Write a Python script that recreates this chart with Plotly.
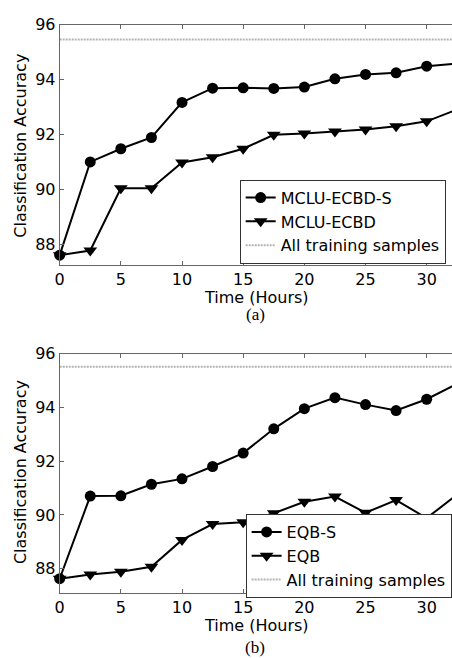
import plotly.graph_objects as go

# ---- data ----
time_hours = [0, 2.5, 5, 7.5, 10, 12.5, 15, 17.5, 20, 22.5, 25, 27.5, 30, 32.5]

mclu_ecbd_s = [87.6, 91.0, 91.48, 91.89, 93.17, 93.69, 93.70, 93.68, 93.73, 94.03, 94.19, 94.25, 94.49, 94.59]
mclu_ecbd = [87.6, 87.77, 90.04, 90.04, 90.98, 91.17, 91.48, 91.99, 92.04, 92.11, 92.18, 92.30, 92.48, 92.91]
all_samples_a = 95.46

eqb_s = [87.63, 90.70, 90.71, 91.14, 91.34, 91.80, 92.30, 93.20, 93.95, 94.36, 94.10, 93.88, 94.30, 94.88]
eqb = [87.63, 87.78, 87.89, 88.07, 89.07, 89.66, 89.73, 90.06, 90.49, 90.68, 90.08, 90.55, 89.88, 90.76]
all_samples_b = 95.51

x_ticks = [0, 5, 10, 15, 20, 25, 30]
y_ticks = [88, 90, 92, 94, 96]

names_a = ["MCLU-ECBD-S", "MCLU-ECBD", "All training samples"]
names_b = ["EQB-S", "EQB", "All training samples"]

W, H = 452, 658
FONT = "DejaVu Sans, Liberation Sans, Arial, sans-serif"
FS = 16


def py(p):
    return 1 - p / H


fig = go.Figure()

line_style = dict(color="black", width=2)
gray_style = dict(color="#b4b4b4", width=2, dash="2px,1px")
circle_marker = dict(symbol="circle", size=11, color="black")
tri_marker = dict(symbol="triangle-down", size=12, color="black")

# top panel
fig.add_trace(go.Scatter(x=time_hours, y=mclu_ecbd_s, name=names_a[0], mode="lines+markers",
                         line=line_style, marker=circle_marker,
                         cliponaxis=False, xaxis="x", yaxis="y", legend="legend"))
fig.add_trace(go.Scatter(x=time_hours, y=mclu_ecbd, name=names_a[1], mode="lines+markers",
                         line=line_style, marker=tri_marker,
                         cliponaxis=False, xaxis="x", yaxis="y", legend="legend"))
fig.add_trace(go.Scatter(x=[time_hours[0], time_hours[-1]], y=[all_samples_a, all_samples_a],
                         name=names_a[2], mode="lines", line=gray_style,
                         xaxis="x", yaxis="y", legend="legend"))

# bottom panel
fig.add_trace(go.Scatter(x=time_hours, y=eqb_s, name=names_b[0], mode="lines+markers",
                         line=line_style, marker=circle_marker,
                         cliponaxis=False, xaxis="x2", yaxis="y2", legend="legend2"))
fig.add_trace(go.Scatter(x=time_hours, y=eqb, name=names_b[1], mode="lines+markers",
                         line=line_style, marker=tri_marker,
                         cliponaxis=False, xaxis="x2", yaxis="y2", legend="legend2"))
fig.add_trace(go.Scatter(x=[time_hours[0], time_hours[-1]], y=[all_samples_b, all_samples_b],
                         name=names_b[2], mode="lines", line=gray_style,
                         xaxis="x2", yaxis="y2", legend="legend2"))

x_left = 55.3 / W
xr = [0, 32.07]

axis_common = dict(showgrid=False, zeroline=False, showline=True, linecolor="#666666", linewidth=1,
                   ticks="inside", ticklen=4, tickcolor="#666666",
                   tickfont=dict(family=FONT, size=FS, color="black"))

fig.update_layout(
    width=W, height=H,
    margin=dict(l=0, r=0, t=0, b=0),
    paper_bgcolor="white", plot_bgcolor="white",
    showlegend=True,
    xaxis=dict(domain=[x_left, 1], range=xr, tickvals=x_ticks, mirror="ticks", anchor="y", **axis_common),
    yaxis=dict(domain=[py(259.3), py(16)], range=[87.25, 96], tickvals=y_ticks, anchor="x", **axis_common),
    xaxis2=dict(domain=[x_left, 1], range=xr, tickvals=x_ticks, mirror="ticks", anchor="y2", **axis_common),
    yaxis2=dict(domain=[py(592), py(349.3)], range=[87.1, 96], tickvals=y_ticks, anchor="x2", **axis_common),
    legend=dict(x=237.3 / W, y=py(173), xanchor="left", yanchor="top",
                bgcolor="white", bordercolor="#333333", borderwidth=1,
                font=dict(family=FONT, size=FS, color="black"), tracegroupgap=0),
    legend2=dict(x=243.3 / W, y=py(512), xanchor="left", yanchor="top",
                 bgcolor="white", bordercolor="#333333", borderwidth=1,
                 font=dict(family=FONT, size=FS, color="black"), tracegroupgap=0),
)

ann_font = dict(family=FONT, size=FS, color="black")
serif_font = dict(family="Liberation Serif, Times New Roman, serif", size=17, color="black")
annotations = [
    dict(text="Classification Accuracy", x=15.7 / W, y=py(139), textangle=-90, font=ann_font),
    dict(text="Time (Hours)", x=254 / W, y=py(292), font=ann_font),
    dict(text="(a)", x=253 / W, y=py(310), font=serif_font),
    dict(text="Classification Accuracy", x=15.7 / W, y=py(470), textangle=-90, font=ann_font),
    dict(text="Time (Hours)", x=254 / W, y=py(625), font=ann_font),
    dict(text="(b)", x=253 / W, y=py(647), font=serif_font),
]
for a in annotations:
    fig.add_annotation(xref="paper", yref="paper", showarrow=False,
                       xanchor="center", yanchor="middle", **a)

fig.write_html("out.html", config={"displayModeBar": False},
               post_script="document.body.style.margin='0';document.body.style.overflow='hidden';")
